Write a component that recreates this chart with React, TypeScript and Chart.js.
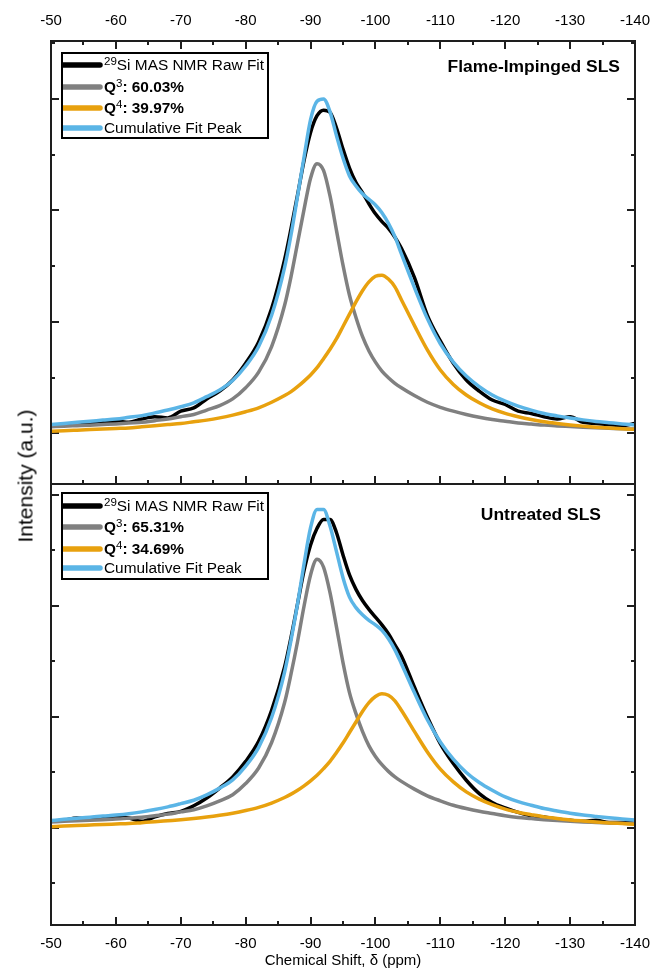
import React, { useEffect, useRef } from "react";
import { Chart, registerables } from "chart.js";
Chart.register(...registerables);

const FONT = "Arial, 'Liberation Sans', sans-serif";

// Chemical shift grid (ppm)
const PPM = [
  -50, -52, -54, -56, -58, -60, -62, -64, -66, -68, -70, -72, -74, -76, -78, -80, -82, -84, -86,
  -87, -88, -89, -90, -91, -92, -93, -94, -95, -96, -97, -98, -99, -100, -101, -102, -103,
  -104, -106, -108, -110, -112, -114, -116, -118, -120, -122, -124, -126, -128, -130, -132, -134, -136, -138, -140,
];

// Flame-Impinged SLS
const TOP_RAW = [
  0.07, 0.08, 0.075, 0.09, 0.10, 0.11, 0.10, 0.13, 0.15, 0.14, 0.20, 0.23, 0.31, 0.38, 0.48, 0.63, 0.82, 1.12, 1.56,
  1.84, 2.14, 2.45, 2.70, 2.85, 2.90, 2.88, 2.74, 2.55, 2.38, 2.25, 2.16, 2.06, 1.97, 1.90, 1.84, 1.76,
  1.66, 1.40, 1.06, 0.83, 0.63, 0.48, 0.38, 0.30, 0.26, 0.20, 0.18, 0.15, 0.13, 0.15, 0.10, 0.09, 0.08, 0.07, 0.09,
];
const TOP_Q3 = [
  0.06, 0.066, 0.07, 0.074, 0.08, 0.086, 0.094, 0.10, 0.115, 0.13, 0.15, 0.17, 0.21, 0.25, 0.31, 0.41, 0.55, 0.78, 1.15,
  1.41, 1.71, 2.01, 2.29, 2.42, 2.36, 2.13, 1.82, 1.51, 1.24, 1.04, 0.87, 0.74, 0.64, 0.56, 0.50, 0.45,
  0.41, 0.34, 0.28, 0.235, 0.20, 0.17, 0.145, 0.125, 0.11, 0.095, 0.085, 0.075, 0.068, 0.062, 0.056, 0.051, 0.047, 0.043, 0.04,
];
const TOP_Q4 = [
  0.02, 0.025, 0.03, 0.035, 0.04, 0.045, 0.05, 0.06, 0.07, 0.08, 0.09, 0.105, 0.12, 0.14, 0.165, 0.195, 0.23, 0.28, 0.34,
  0.375, 0.42, 0.47, 0.525, 0.59, 0.67, 0.755, 0.85, 0.96, 1.07, 1.18, 1.28, 1.36, 1.41, 1.42, 1.385, 1.315,
  1.20, 0.97, 0.75, 0.57, 0.44, 0.345, 0.275, 0.22, 0.18, 0.15, 0.125, 0.105, 0.09, 0.077, 0.066, 0.057, 0.05, 0.043, 0.037,
];
const TOP_CUM = [
  0.08, 0.09, 0.10, 0.11, 0.12, 0.13, 0.145, 0.16, 0.185, 0.21, 0.24, 0.275, 0.33, 0.39, 0.475, 0.605, 0.78, 1.06, 1.49,
  1.785, 2.13, 2.48, 2.815, 2.98, 3.0, 2.885, 2.67, 2.47, 2.31, 2.22, 2.15, 2.10, 2.05, 1.98, 1.885, 1.765,
  1.61, 1.31, 1.03, 0.805, 0.64, 0.515, 0.42, 0.345, 0.29, 0.245, 0.21, 0.18, 0.158, 0.139, 0.122, 0.108, 0.097, 0.086, 0.077,
];

// Untreated SLS
const BOT_RAW = [
  0.06, 0.07, 0.09, 0.08, 0.09, 0.10, 0.09, 0.06, 0.10, 0.13, 0.15, 0.20, 0.27, 0.36, 0.46, 0.60, 0.78, 1.06, 1.45,
  1.72, 2.02, 2.32, 2.55, 2.70, 2.78, 2.78, 2.66, 2.46, 2.28, 2.15, 2.05, 1.97, 1.90, 1.83, 1.75, 1.65,
  1.55, 1.27, 1.00, 0.76, 0.58, 0.43, 0.31, 0.23, 0.18, 0.14, 0.11, 0.10, 0.08, 0.07, 0.06, 0.07, 0.05, 0.05, 0.04,
];
const BOT_Q3 = [
  0.055, 0.06, 0.065, 0.07, 0.075, 0.08, 0.088, 0.097, 0.11, 0.125, 0.145, 0.165, 0.20, 0.245, 0.30, 0.40, 0.54, 0.77, 1.13,
  1.39, 1.68, 2.0, 2.28, 2.42, 2.35, 2.12, 1.81, 1.49, 1.22, 1.03, 0.87, 0.74, 0.645, 0.57, 0.51, 0.46,
  0.42, 0.35, 0.29, 0.245, 0.205, 0.175, 0.15, 0.13, 0.11, 0.095, 0.085, 0.075, 0.067, 0.06, 0.054, 0.05, 0.046, 0.042, 0.038,
];
const BOT_Q4 = [
  0.012, 0.018, 0.022, 0.027, 0.032, 0.036, 0.04, 0.048, 0.056, 0.065, 0.074, 0.085, 0.098, 0.114, 0.133, 0.157, 0.186, 0.225, 0.275,
  0.305, 0.34, 0.38, 0.425, 0.475, 0.535, 0.60, 0.68, 0.765, 0.86, 0.955, 1.05, 1.13, 1.185, 1.21, 1.195, 1.145,
  1.06, 0.87, 0.685, 0.53, 0.415, 0.325, 0.26, 0.21, 0.17, 0.142, 0.12, 0.10, 0.086, 0.073, 0.063, 0.054, 0.046, 0.04, 0.034,
];
const BOT_CUM = [
  0.067, 0.078, 0.087, 0.097, 0.107, 0.116, 0.128, 0.145, 0.166, 0.19, 0.219, 0.25, 0.298, 0.359, 0.433, 0.557, 0.726, 0.995, 1.405,
  1.695, 2.02, 2.38, 2.705, 2.87, 2.87, 2.72, 2.49, 2.255, 2.08, 1.985, 1.92, 1.87, 1.83, 1.78, 1.705, 1.605,
  1.48, 1.22, 0.975, 0.775, 0.62, 0.50, 0.41, 0.34, 0.28, 0.237, 0.205, 0.175, 0.153, 0.133, 0.117, 0.104, 0.092, 0.082, 0.072,
];

// Axis ticks
const X_MAJOR_TICKS = [-50, -60, -70, -80, -90, -100, -110, -120, -130, -140];
const X_MINOR_TICKS = [-55, -65, -75, -85, -95, -105, -115, -125, -135];
const Y_TOP_MAJOR = [0, 1, 2, 3];
const Y_TOP_MINOR = [0.5, 1.5, 2.5, 3.5];
const Y_BOT_MAJOR = [0, 1, 2, 3];
const Y_BOT_MINOR = [-0.5, 0.5, 1.5, 2.5];

const TOP_PERCENTS = ["60.03%", "39.97%"];
const BOT_PERCENTS = ["65.31%", "34.69%"];

const C_RAW = "#000000";
const C_Q3 = "#808080";
const C_Q4 = "#E8A10E";
const C_CUM = "#5BB5E6";

type Part = { t: string; bold?: boolean; sup?: boolean };

function legendEntries(p: string[]) {
  return [
    { color: C_RAW, parts: [{ t: "29", sup: true }, { t: "Si MAS NMR Raw Fit" }] as Part[] },
    { color: C_Q3, parts: [{ t: "Q", bold: true }, { t: "3", sup: true }, { t: ": " + p[0], bold: true }] as Part[] },
    { color: C_Q4, parts: [{ t: "Q", bold: true }, { t: "4", sup: true }, { t: ": " + p[1], bold: true }] as Part[] },
    { color: C_CUM, parts: [{ t: "Cumulative Fit Peak" }] as Part[] },
  ];
}

const SX = 1.1;

function drawRich(ctx: CanvasRenderingContext2D, x: number, baseline: number, parts: Part[]) {
  let cx = x;
  for (const p of parts) {
    const size = p.sup ? 10.5 : 14;
    ctx.font = `${p.bold ? "bold " : ""}${size}px ${FONT}`;
    const y = p.sup ? baseline - 5 : baseline;
    const w = ctx.measureText(p.t).width;
    ctx.save();
    ctx.translate(cx, y);
    ctx.scale(SX, 1);
    ctx.textAlign = "left";
    ctx.textBaseline = "alphabetic";
    ctx.fillStyle = "#000";
    ctx.fillText(p.t, 0, 0);
    ctx.restore();
    cx += w * SX;
  }
}

type PanelCfg = {
  yMajor: number[];
  yMinor: number[];
  topTicks: boolean;
  bottomTicks: boolean;
  legendTop: number;
  legendBottom: number;
  rows: number[];
  entries: ReturnType<typeof legendEntries>;
  title: string;
  titleRight: number;
  titleBase: number;
};

function makePlugin(cfg: PanelCfg) {
  return {
    id: "panelDecor",
    beforeDatasetsDraw(chart: any) {
      const ctx: CanvasRenderingContext2D = chart.ctx;
      const a = chart.chartArea;
      const xs = chart.scales.x;
      const ys = chart.scales.y;
      ctx.save();
      ctx.strokeStyle = "#1e1e1e";
      ctx.lineWidth = 2;
      ctx.beginPath();
      const xt = (vals: number[], len: number) => {
        for (const v of vals) {
          const px = Math.round(xs.getPixelForValue(v));
          if (cfg.topTicks) {
            ctx.moveTo(px, a.top);
            ctx.lineTo(px, a.top + len);
          }
          if (cfg.bottomTicks) {
            ctx.moveTo(px, a.bottom);
            ctx.lineTo(px, a.bottom - len);
          }
        }
      };
      xt(X_MAJOR_TICKS, 8);
      xt(X_MINOR_TICKS, 4);
      const yt = (vals: number[], len: number) => {
        for (const v of vals) {
          const py = Math.round(ys.getPixelForValue(v));
          if (py < a.top || py > a.bottom) continue;
          ctx.moveTo(a.left, py);
          ctx.lineTo(a.left + len, py);
          ctx.moveTo(a.right, py);
          ctx.lineTo(a.right - len, py);
        }
      };
      yt(cfg.yMajor, 8);
      yt(cfg.yMinor, 4);
      ctx.stroke();
      ctx.restore();
    },
    afterDatasetsDraw(chart: any) {
      const ctx: CanvasRenderingContext2D = chart.ctx;
      const a = chart.chartArea;
      ctx.save();
      ctx.strokeStyle = "#1e1e1e";
      ctx.lineWidth = 2;
      ctx.strokeRect(a.left, a.top, a.right - a.left, a.bottom - a.top);
      const bl = a.left + 11;
      const br = 268;
      const bt = a.top + cfg.legendTop;
      const bb = a.top + cfg.legendBottom;
      ctx.fillStyle = "#fff";
      ctx.fillRect(bl, bt, br - bl, bb - bt);
      ctx.strokeStyle = "#000";
      ctx.lineWidth = 2;
      ctx.strokeRect(bl, bt, br - bl, bb - bt);
      cfg.entries.forEach((e, i) => {
        const ry = a.top + cfg.rows[i];
        ctx.strokeStyle = e.color;
        ctx.lineWidth = 5.5;
        ctx.lineCap = "butt";
        ctx.beginPath();
        ctx.moveTo(bl + 1, ry);
        ctx.lineTo(bl + 38, ry);
        ctx.stroke();
        ctx.fillStyle = e.color;
        ctx.beginPath();
        ctx.arc(bl + 38, ry, 2.75, -Math.PI / 2, Math.PI / 2);
        ctx.fill();
        drawRich(ctx, bl + 42, ry + 5, e.parts);
      });
      ctx.font = `bold 16px ${FONT}`;
      ctx.fillStyle = "#000";
      ctx.save();
      ctx.translate(a.right - cfg.titleRight, a.top + cfg.titleBase);
      ctx.scale(1.09, 1);
      ctx.textAlign = "right";
      ctx.textBaseline = "alphabetic";
      ctx.fillText(cfg.title, 0, 0);
      ctx.restore();
      ctx.restore();
    },
  };
}

function datasets(raw: number[], q3: number[], q4: number[], cum: number[]) {
  const pts = (ys: number[]) => PPM.map((x, i) => ({ x, y: ys[i] }));
  const base = {
    borderWidth: 3.5,
    pointRadius: 0,
    cubicInterpolationMode: "monotone" as const,
    borderCapStyle: "round" as const,
    borderJoinStyle: "round" as const,
    fill: false,
  };
  return [
    { ...base, label: "Raw", data: pts(raw), borderColor: C_RAW, order: 4 },
    { ...base, label: "Q3", data: pts(q3), borderColor: C_Q3, order: 3 },
    { ...base, label: "Q4", data: pts(q4), borderColor: C_Q4, order: 2 },
    { ...base, label: "Cum", data: pts(cum), borderColor: C_CUM, order: 1 },
  ];
}

function xAxis(position: "top" | "bottom", height: number, padding: number, title?: string) {
  return {
    type: "linear" as const,
    position,
    min: -140,
    max: -50,
    reverse: true,
    afterBuildTicks: (s: any) => {
      s.ticks = X_MAJOR_TICKS.map((v) => ({ value: v }));
    },
    ticks: {
      autoSkip: false,
      maxRotation: 0,
      padding,
      color: "#000",
      font: { family: FONT, size: 15 },
      callback: (v: any) => String(v),
    },
    grid: { display: false, drawTicks: false },
    border: { display: false },
    title: title
      ? { display: true, text: title, color: "#000", font: { family: FONT, size: 15 }, padding: { top: 0, bottom: 0 } }
      : { display: false },
    afterFit: (s: any) => {
      s.height = height;
      s.paddingLeft = 0;
      s.paddingRight = 0;
    },
  };
}

export default function App() {
  const refA = useRef<HTMLCanvasElement>(null);
  const refB = useRef<HTMLCanvasElement>(null);

  useEffect(() => {
    const a = new Chart(refA.current!, {
      type: "line",
      data: { datasets: datasets(TOP_RAW, TOP_Q3, TOP_Q4, TOP_CUM) as any },
      options: {
        animation: false,
        responsive: false,
        devicePixelRatio: 1,
        events: [],
        layout: { padding: { left: 51, right: 19, top: 0, bottom: 2 } },
        scales: {
          x: xAxis("top", 41, 11) as any,
          y: { type: "linear", display: false, min: -0.453, max: 3.52 },
        },
        plugins: { legend: { display: false }, tooltip: { enabled: false } },
      },
      plugins: [
        makePlugin({
          yMajor: Y_TOP_MAJOR,
          yMinor: Y_TOP_MINOR,
          topTicks: true,
          bottomTicks: true,
          legendTop: 12,
          legendBottom: 97,
          rows: [24, 46, 67, 87],
          entries: legendEntries(TOP_PERCENTS),
          title: "Flame-Impinged SLS",
          titleRight: 15,
          titleBase: 31,
        }),
      ],
    });
    const b = new Chart(refB.current!, {
      type: "line",
      data: { datasets: datasets(BOT_RAW, BOT_Q3, BOT_Q4, BOT_CUM) as any },
      options: {
        animation: false,
        responsive: false,
        devicePixelRatio: 1,
        events: [],
        layout: { padding: { left: 51, right: 19, top: 4, bottom: 0 } },
        scales: {
          x: xAxis("bottom", 45, 10, "Chemical Shift, δ (ppm)") as any,
          y: { type: "linear", display: false, min: -0.874, max: 3.099 },
        },
        plugins: { legend: { display: false }, tooltip: { enabled: false } },
      },
      plugins: [
        makePlugin({
          yMajor: Y_BOT_MAJOR,
          yMinor: Y_BOT_MINOR,
          topTicks: false,
          bottomTicks: true,
          legendTop: 9,
          legendBottom: 95,
          rows: [22, 43, 65, 84],
          entries: legendEntries(BOT_PERCENTS),
          title: "Untreated SLS",
          titleRight: 34,
          titleBase: 36,
        }),
      ],
    });
    return () => {
      a.destroy();
      b.destroy();
    };
  }, []);

  return (
    <div
      style={{
        position: "absolute",
        left: 0,
        top: 0,
        width: 654,
        height: 970,
        background: "#fff",
        overflow: "hidden",
      }}
    >
      <canvas
        ref={refA}
        width={654}
        height={486}
        style={{ position: "absolute", left: 0, top: 0, width: 654, height: 486 }}
      />
      <canvas
        ref={refB}
        width={654}
        height={490}
        style={{ position: "absolute", left: 0, top: 480, width: 654, height: 490 }}
      />
      <div
        style={{
          position: "absolute",
          left: 24.5,
          top: 475.5,
          transform: "translate(-50%, -50%) rotate(-90deg)",
          fontFamily: FONT,
          fontSize: 21,
          lineHeight: "21px",
          whiteSpace: "nowrap",
          color: "#000",
        }}
      >
        Intensity (a.u.)
      </div>
    </div>
  );
}
